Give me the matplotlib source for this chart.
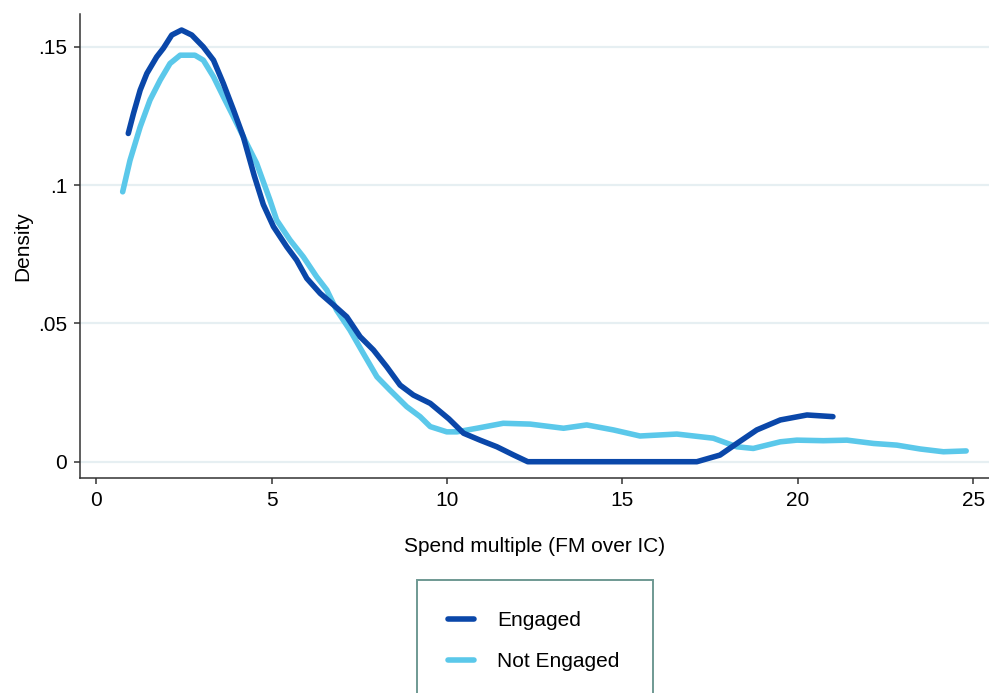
import matplotlib.pyplot as plt
import numpy as np

plt.rcParams['font.family'] = ['Liberation Sans', 'DejaVu Sans']

# kernel density estimates
x_eng = [0.91, 1.06, 1.25, 1.44, 1.72, 1.91, 2.15, 2.43, 2.72, 3.05, 3.34, 3.62, 3.91, 4.19,
         4.5, 4.76, 5.05, 5.43, 5.71, 6.0, 6.38, 6.76, 7.14, 7.52, 7.9, 8.28, 8.66, 9.04,
         9.52, 10.05, 10.47, 10.94, 11.42, 11.9, 12.3, 17.12, 17.78, 18.26, 18.83, 19.5,
         20.26, 21.0]
y_eng = [0.1187, 0.126, 0.1344, 0.1404, 0.1464, 0.1495, 0.1543, 0.1561, 0.1543, 0.15,
         0.1452, 0.1368, 0.1272, 0.1175, 0.1035, 0.093, 0.085, 0.0777, 0.0729, 0.0663,
         0.0609, 0.0567, 0.0524, 0.0452, 0.0404, 0.0343, 0.0277, 0.0241, 0.0211, 0.0155,
         0.0103, 0.0078, 0.0054, 0.0024, 0.0, 0.0, 0.0024, 0.0066, 0.0115, 0.0151, 0.0169,
         0.0163]

x_not = [0.75, 0.96, 1.25, 1.53, 1.82, 2.1, 2.39, 2.81, 3.05, 3.34, 3.62, 3.91, 4.19, 4.57,
         4.95, 5.14, 5.52, 5.9, 6.28, 6.57, 6.85, 7.23, 7.61, 8.0, 8.37, 8.85, 9.23, 9.52,
         9.99, 10.28, 10.85, 11.6, 12.37, 13.32, 13.98, 14.74, 15.5, 16.55, 17.59, 18.26,
         18.73, 19.5, 19.97, 20.73, 21.4, 22.16, 22.82, 23.49, 24.15, 24.8]
y_not = [0.0976, 0.109, 0.1211, 0.1308, 0.138, 0.144, 0.147, 0.147, 0.1452, 0.1392, 0.132,
         0.1247, 0.1175, 0.1079, 0.0946, 0.0874, 0.0802, 0.0741, 0.0669, 0.0621, 0.0548,
         0.0476, 0.0392, 0.0307, 0.0259, 0.0199, 0.0163, 0.0127, 0.0108, 0.0108, 0.0121,
         0.0139, 0.0136, 0.0121, 0.0133, 0.0115, 0.0093, 0.01, 0.0085, 0.0054, 0.0048,
         0.0072, 0.0078, 0.0076, 0.0078, 0.0066, 0.006, 0.0046, 0.0036, 0.0039]

xticks = [0, 5, 10, 15, 20, 25]
yticks = [0, 0.05, 0.1, 0.15]
ytick_labels = ['0', '.05', '.1', '.15']

c_eng = '#0a47a9'
c_not = '#5bc8ea'

fig = plt.figure(figsize=(9.89, 6.93), dpi=100)
ax = fig.add_axes([0.0804, 0.3102, 0.9196, 0.6696])

ax.plot(x_eng, y_eng, color=c_eng, lw=4.0, solid_capstyle='round', solid_joinstyle='round',
        label='Engaged', zorder=3)
ax.plot(x_not, y_not, color=c_not, lw=4.0, solid_capstyle='round', solid_joinstyle='round',
        label='Not Engaged', zorder=2)

ax.set_xlim(-0.48, 25.45)
ax.set_ylim(-0.0059, 0.1619)
ax.set_xticks(xticks)
ax.set_yticks(yticks)
ax.set_yticklabels(ytick_labels)
ax.grid(axis='y', color='#e6eff2', lw=1.6, zorder=0)
ax.grid(axis='x', visible=False)

for s in ['top', 'right']:
    ax.spines[s].set_visible(False)
for s in ['left', 'bottom']:
    ax.spines[s].set_color('#333333')
    ax.spines[s].set_linewidth(1.1)
ax.tick_params(direction='out', length=4, width=1.1, color='#333333',
               labelsize=15, pad=5)

ax.set_xlabel('Spend multiple (FM over IC)', fontsize=15, labelpad=20)
ax.set_ylabel('Density', fontsize=15, labelpad=4)

leg = fig.legend(loc='upper left', bbox_to_anchor=(0.4213, 0.0, 0.2393, 0.163),
                 mode='expand', fontsize=15, frameon=True, fancybox=False,
                 borderpad=1.5, labelspacing=1.05, handlelength=1.25,
                 handletextpad=1.1, borderaxespad=0)
leg.get_frame().set_edgecolor('#4a7f78')
leg.get_frame().set_linewidth(1.4)

plt.savefig('out.png', dpi=100)
